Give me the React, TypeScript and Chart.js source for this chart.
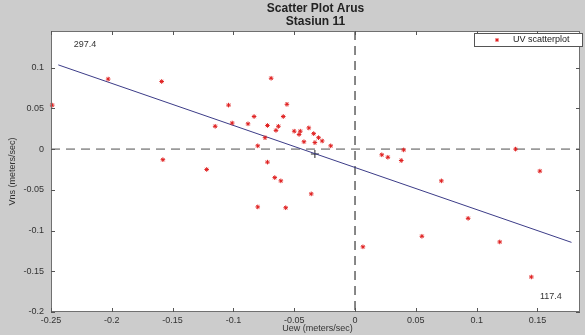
import React, { useEffect, useRef } from "react";
import { Chart, registerables } from "chart.js";

Chart.register(...registerables);

// UV scatter data (meters/sec)
const uValues = [
  -0.249, -0.203, -0.159, -0.158, -0.122, -0.115, -0.104, -0.101, -0.088, -0.083,
  -0.080, -0.080, -0.074, -0.072, -0.072, -0.069, -0.066, -0.065, -0.063, -0.061,
  -0.059, -0.057, -0.056, -0.050, -0.045, -0.046, -0.042, -0.038, -0.036, -0.034,
  -0.033, -0.030, -0.027, -0.020, 0.0065, 0.022, 0.027, 0.038, 0.040, 0.055,
  0.071, 0.093, 0.119, 0.132, 0.145, 0.152,
];
const vValues = [
  0.054, 0.086, 0.083, -0.013, -0.025, 0.028, 0.054, 0.032, 0.031, 0.040,
  0.004, -0.071, 0.014, 0.029, -0.016, 0.087, -0.035, 0.023, 0.028, -0.039,
  0.040, -0.072, 0.055, 0.022, 0.022, 0.018, 0.009, 0.026, -0.055, 0.019,
  0.008, 0.014, 0.010, 0.004, -0.120, -0.007, -0.010, -0.014, -0.001, -0.107,
  -0.039, -0.085, -0.114, 0.000, -0.157, -0.027,
];

// Regression line end points
const lineU = [-0.244, 0.178];
const lineV = [0.1034, -0.1145];

// Mean point
const meanU = [-0.033];
const meanV = [-0.006];

// Axis ticks
const xTicks = [-0.25, -0.2, -0.15, -0.1, -0.05, 0, 0.05, 0.1, 0.15];
const xTickLabels = ["-0.25", "-0.2", "-0.15", "-0.1", "-0.05", "0", "0.05", "0.1", "0.15"];
const yTicks = [-0.2, -0.15, -0.1, -0.05, 0, 0.05, 0.1];
const yTickLabels = ["-0.2", "-0.15", "-0.1", "-0.05", "0", "0.05", "0.1"];

// Direction annotations
const annotTexts = ["297.4", "117.4"];
const annotU = [-0.222, 0.161];
const annotV = [0.1285, -0.1805];

const titleLines = ["Scatter Plot Arus", "Stasiun 11"];
const xTitle = "Uew (meters/sec)";
const yTitle = "Vns (meters/sec)";
const legendLabel = "UV scatterplot";

const FONT = "'Liberation Sans', Arial, sans-serif";

export default function App() {
  const ref = useRef<HTMLCanvasElement | null>(null);

  useEffect(() => {
    document.body.style.margin = "0";
    const canvas = ref.current;
    if (!canvas) return;

    const decor = {
      id: "decor",
      beforeDraw(chart: any) {
        const { ctx, chartArea: a } = chart;
        ctx.save();
        ctx.fillStyle = "#cccccc";
        ctx.fillRect(0, 0, chart.width, chart.height);
        ctx.fillStyle = "#ffffff";
        ctx.fillRect(a.left, a.top, a.right - a.left, a.bottom - a.top);
        ctx.restore();
      },
      beforeDatasetsDraw(chart: any) {
        const { ctx, chartArea: a, scales } = chart;
        const x0 = scales.x.getPixelForValue(0);
        const y0 = scales.y.getPixelForValue(0);
        ctx.save();
        ctx.strokeStyle = "#9a9a9a";
        ctx.lineWidth = 1.6;
        ctx.setLineDash([9, 6]);
        ctx.beginPath();
        ctx.moveTo(a.left, y0);
        ctx.lineTo(a.right, y0);
        ctx.stroke();
        ctx.strokeStyle = "#6a6a6a";
        ctx.beginPath();
        ctx.moveTo(x0, a.top);
        ctx.lineTo(x0, a.bottom);
        ctx.stroke();
        ctx.restore();
      },
      afterDraw(chart: any) {
        const { ctx, chartArea: a, scales } = chart;
        ctx.save();
        // frame
        ctx.strokeStyle = "#707070";
        ctx.lineWidth = 1;
        ctx.strokeRect(a.left + 0.5, a.top + 0.5, a.right - a.left - 1, a.bottom - a.top - 1);
        // inward ticks
        ctx.strokeStyle = "#555555";
        ctx.beginPath();
        xTicks.forEach((t) => {
          const px = Math.round(scales.x.getPixelForValue(t)) + 0.5;
          ctx.moveTo(px, a.bottom);
          ctx.lineTo(px, a.bottom - 4);
          ctx.moveTo(px, a.top);
          ctx.lineTo(px, a.top + 4);
        });
        yTicks.forEach((t) => {
          const py = Math.round(scales.y.getPixelForValue(t)) + 0.5;
          ctx.moveTo(a.left, py);
          ctx.lineTo(a.left + 4, py);
          ctx.moveTo(a.right, py);
          ctx.lineTo(a.right - 4, py);
        });
        ctx.stroke();

        // title
        ctx.fillStyle = "#222222";
        ctx.font = `bold 12px ${FONT}`;
        ctx.textAlign = "center";
        ctx.textBaseline = "middle";
        const cx = (a.left + a.right) / 2;
        ctx.fillText(titleLines[0], cx, 9);
        ctx.fillText(titleLines[1], cx, 22);

        // axis titles
        ctx.font = `9px ${FONT}`;
        ctx.fillStyle = "#333333";
        ctx.fillText(xTitle, cx + 2, 329);
        ctx.save();
        ctx.translate(13, (a.top + a.bottom) / 2);
        ctx.rotate(-Math.PI / 2);
        ctx.fillText(yTitle, 0, 0);
        ctx.restore();

        // annotations
        ctx.font = `9px ${FONT}`;
        ctx.fillStyle = "#333333";
        annotTexts.forEach((t, i) => {
          ctx.fillText(t, scales.x.getPixelForValue(annotU[i]), scales.y.getPixelForValue(annotV[i]));
        });

        // legend
        const lx = 474, ly = 33, lw = 108, lh = 13;
        ctx.fillStyle = "#ffffff";
        ctx.fillRect(lx, ly, lw, lh);
        ctx.strokeStyle = "#555555";
        ctx.lineWidth = 1;
        ctx.strokeRect(lx + 0.5, ly + 0.5, lw, lh);
        // star marker
        const mx = 497, my = ly + lh / 2 + 0.5, r = 2;
        ctx.strokeStyle = "#e02020";
        ctx.beginPath();
        ctx.moveTo(mx - r, my); ctx.lineTo(mx + r, my);
        ctx.moveTo(mx, my - r); ctx.lineTo(mx, my + r);
        ctx.moveTo(mx - r * 0.7, my - r * 0.7); ctx.lineTo(mx + r * 0.7, my + r * 0.7);
        ctx.moveTo(mx - r * 0.7, my + r * 0.7); ctx.lineTo(mx + r * 0.7, my - r * 0.7);
        ctx.stroke();
        ctx.fillStyle = "#222222";
        ctx.textAlign = "left";
        ctx.fillText(legendLabel, 513, my);
        ctx.restore();
      },
    };

    const chart = new Chart(canvas, {
      type: "scatter",
      data: {
        datasets: [
          {
            label: legendLabel,
            data: uValues.map((u, i) => ({ x: u, y: vValues[i] })),
            pointStyle: "star",
            radius: 2.3,
            borderWidth: 1,
            borderColor: "#e02020",
            backgroundColor: "#e02020",
            clip: false as any,
          },
          {
            label: "regression",
            data: lineU.map((u, i) => ({ x: u, y: lineV[i] })),
            showLine: true,
            pointRadius: 0,
            borderColor: "#3c3c88",
            borderWidth: 1,
          },
          {
            label: "mean",
            data: meanU.map((u, i) => ({ x: u, y: meanV[i] })),
            pointStyle: "cross",
            radius: 4,
            borderWidth: 1,
            borderColor: "#222222",
          },
        ],
      },
      options: {
        responsive: false,
        animation: false,
        devicePixelRatio: 1,
        layout: { padding: { top: 31, right: 2, left: 0, bottom: 0 } },
        plugins: {
          legend: { display: false },
          title: { display: false },
          tooltip: { enabled: false },
        },
        scales: {
          x: {
            type: "linear",
            min: -0.25,
            max: 0.185,
            grid: { display: false, drawTicks: false, tickLength: 0 },
            border: { display: false },
            afterBuildTicks: (s: any) => {
              s.ticks = xTicks.map((v) => ({ value: v }));
            },
            afterFit: (s: any) => {
              s.height = 23;
            },
            ticks: {
              autoSkip: false,
              maxRotation: 0,
              padding: 3,
              color: "#333333",
              font: { family: FONT, size: 9 },
              callback: (v: any) => {
                const i = xTicks.indexOf(Number(v));
                return i >= 0 ? xTickLabels[i] : "";
              },
            },
          },
          y: {
            type: "linear",
            min: -0.2,
            max: 0.145,
            grid: { display: false, drawTicks: false, tickLength: 0 },
            border: { display: false },
            afterBuildTicks: (s: any) => {
              s.ticks = yTicks.map((v) => ({ value: v }));
            },
            afterFit: (s: any) => {
              s.width = 51;
            },
            ticks: {
              autoSkip: false,
              padding: 7,
              color: "#333333",
              font: { family: FONT, size: 9 },
              callback: (v: any) => {
                const i = yTicks.indexOf(Number(v));
                return i >= 0 ? yTickLabels[i] : "";
              },
            },
          },
        },
      },
      plugins: [decor],
    });

    return () => chart.destroy();
  }, []);

  return (
    <div style={{ position: "absolute", left: 0, top: 0, width: 585, height: 335 }}>
      <canvas ref={ref} width={585} height={335} style={{ display: "block" }} />
    </div>
  );
}
